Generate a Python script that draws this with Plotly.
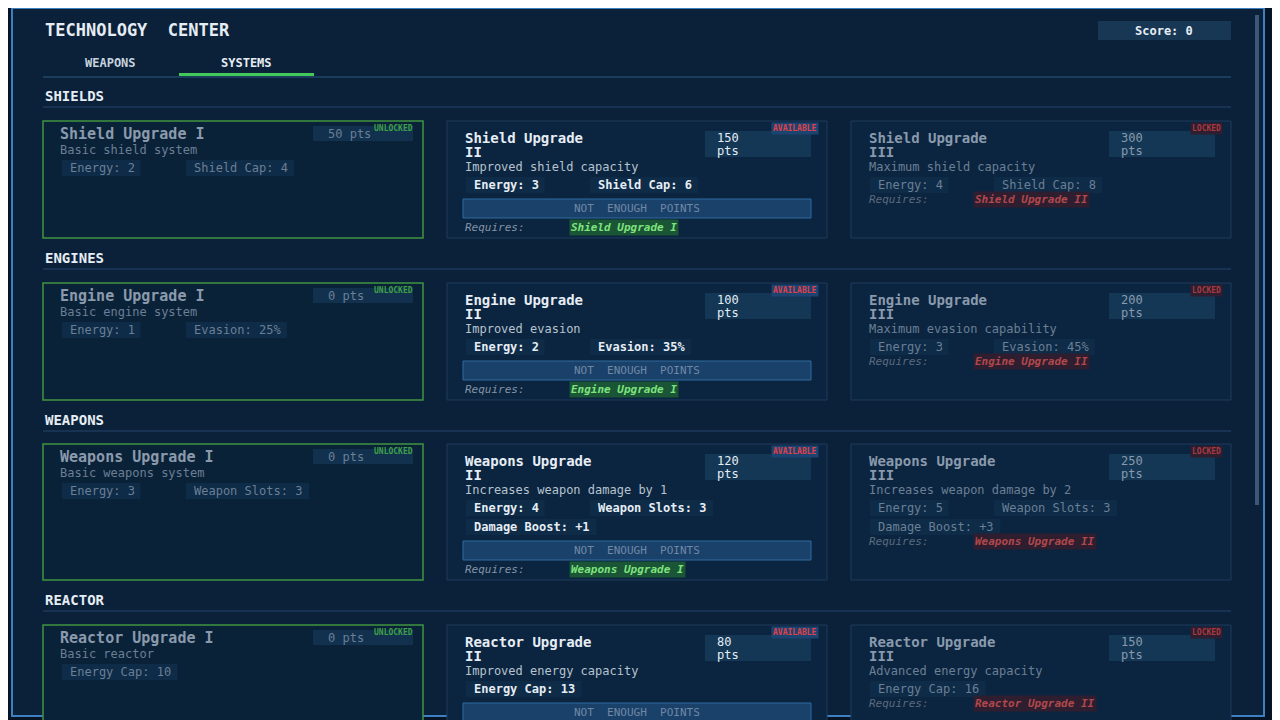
import plotly.graph_objects as go

sections = ["SHIELDS", "ENGINES", "WEAPONS", "REACTOR"]
names = [["Shield Upgrade I", "Shield Upgrade II", "Shield Upgrade III"],
         ["Engine Upgrade I", "Engine Upgrade II", "Engine Upgrade III"],
         ["Weapons Upgrade I", "Weapons Upgrade II", "Weapons Upgrade III"],
         ["Reactor Upgrade I", "Reactor Upgrade II", "Reactor Upgrade III"]]
descs = [["Basic shield system", "Improved shield capacity", "Maximum shield capacity"],
         ["Basic engine system", "Improved evasion", "Maximum evasion capability"],
         ["Basic weapons system", "Increases weapon damage by 1", "Increases weapon damage by 2"],
         ["Basic reactor", "Improved energy capacity", "Advanced energy capacity"]]
points = [[50, 150, 300], [0, 100, 200], [0, 120, 250], [0, 80, 150]]
stats = [[["Energy: 2", "Shield Cap: 4"], ["Energy: 3", "Shield Cap: 6"], ["Energy: 4", "Shield Cap: 8"]],
         [["Energy: 1", "Evasion: 25%"], ["Energy: 2", "Evasion: 35%"], ["Energy: 3", "Evasion: 45%"]],
         [["Energy: 3", "Weapon Slots: 3"], ["Energy: 4", "Weapon Slots: 3", "Damage Boost: +1"],
          ["Energy: 5", "Weapon Slots: 3", "Damage Boost: +3"]],
         [["Energy Cap: 10"], ["Energy Cap: 13"], ["Energy Cap: 16"]]]
requires = [[None, "Shield Upgrade I", "Shield Upgrade II"],
            [None, "Engine Upgrade I", "Engine Upgrade II"],
            [None, "Weapons Upgrade I", "Weapons Upgrade II"],
            [None, "Reactor Upgrade I", "Reactor Upgrade II"]]
statuses = ["UNLOCKED", "AVAILABLE", "LOCKED"]
tabs = ["WEAPONS", "SYSTEMS"]
score = 0

# layout (pixels)
header_y = [96, 258, 420, 600]
card_top = [121, 283, 444, 625]
card_bot = [238, 400, 580, 735]
col_x = [(43, 423), (447, 827), (851, 1231)]
OFF = 8  # page offset of the plot inside the browser

MONO = "DejaVu Sans Mono"
WHITE = "#e6edf5"
DIM = "#6b7f95"
shapes, anns = [], []


def rect(x0, y0, x1, y1, fill, line=None, w=1):
    shapes.append(dict(type="rect", xref="x", yref="y", x0=x0, y0=y0, x1=x1, y1=y1,
                       fillcolor=fill, line=dict(color=line or fill, width=w if line else 0), layer="below"))


def text(x, y, s, size=12, color=WHITE, bold=False, anchor="left", italic=False, bg=None):
    anns.append(dict(x=x, y=y, xref="x", yref="y", text=s, showarrow=False, xanchor=anchor, yanchor="middle",
                     font=dict(family=MONO, size=size, color=color, weight="bold" if bold else "normal",
                               style="italic" if italic else "normal"),
                     bgcolor=bg, borderpad=1))


# panel
rect(-20, -20, 1300, 740, "#061426")
rect(12, 8, 1264, 716, "#0b2139", "#3d7fc0", 2)
rect(1255, 15, 1259, 505, "#3a5878")
text(43, 30, "TECHNOLOGY  CENTER", 17, WHITE, True)
rect(1098, 21, 1231, 40, "#173754")
text(1164, 30.5, "Score: %d" % score, 12, WHITE, True, "center")
text(110, 63, tabs[0], 12, "#c7d3df", True, "center")
text(246, 63, tabs[1], 12, WHITE, True, "center")
shapes.append(dict(type="line", x0=43, x1=1231, y0=77, y1=77, line=dict(color="#2d5a82", width=1)))
rect(179, 73, 314, 76, "#42c95a")

for si, sec in enumerate(sections):
    text(43, header_y[si], sec, 14, WHITE, True)
    shapes.append(dict(type="line", x0=43, x1=1231, y0=header_y[si] + 11, y1=header_y[si] + 11,
                       line=dict(color="#24476a", width=1)))
    t, b = card_top[si], card_bot[si]
    for c in range(3):
        L, R = col_x[c]
        st = statuses[c]
        border = "#3f9440" if st == "UNLOCKED" else "#1e3c5c"
        rect(L, t, R, b, "#0b2540" if c else "#0a2238", border, 1.5 if c == 0 else 1)
        main = WHITE if st == "AVAILABLE" else "#8a9aac"
        sub = "#b7c3cf" if st == "AVAILABLE" else DIM
        if st == "UNLOCKED":
            text(R - 8, t + 7, st, 8, "#3fa047", True, "right")
        elif st == "AVAILABLE":
            text(R - 8, t + 7, st, 8, "#e0404a", True, "right", bg="#1c4470")
        else:
            text(R - 8, t + 7, st, 8, "#a83a40", True, "right", bg="#2e1e30")
        nm = names[si][c]
        if c == 0:
            text(L + 15, t + 13, nm, 15, main, True)
            rect(R - 110, t + 5, R - 10, t + 20, "#11314f")
            text(R - 97, t + 13, "%d pts" % points[si][c], 12, DIM)
            text(L + 15, t + 29, descs[si][c], 12, DIM)
            sy = t + 47
        else:
            head, last = nm.rsplit(" ", 1)
            text(L + 16, t + 17, head, 14, main, True)
            text(L + 16, t + 31, last, 14, main, True)
            rect(R - 122, t + 10, R - 16, t + 36, "#133755")
            text(R - 112, t + 17, str(points[si][c]), 12, main)
            text(R - 112, t + 30, "pts", 12, main)
            text(L + 16, t + 46, descs[si][c], 12, sub)
            sy = t + 64
        slist = stats[si][c]
        for k, s in enumerate(slist):
            x = L + 25 if k != 1 else L + 149
            y = sy + (19 if k == 2 else 0)
            rect(x - 6, y - 8, x + len(s) * 7.4 + 6, y + 8, "#0e2b47")
            text(x, y, s, 12, main if c == 1 else DIM, c == 1)
        last_y = sy + (19 if len(slist) > 2 else 0)
        ry = None
        if c == 1:
            bt = last_y + 14
            rect(L + 16, bt, R - 16, bt + 19, "#1a416a", "#2f6a9e")
            text((L + R) / 2, bt + 9.5, "NOT  ENOUGH  POINTS", 11, "#7088a4", False, "center")
            ry = bt + 28
        elif c == 2:
            ry = last_y + 14
        if ry is not None and requires[si][c]:
            text(L + 16, ry, "Requires:", 11, "#8494a6" if c == 1 else "#5b6b7e", italic=True)
            if c == 1:
                text(L + 122, ry, requires[si][c], 11, "#7ee27e", True, italic=True, bg="#1a5535")
            else:
                text(L + 122, ry, requires[si][c], 11, "#b0484c", True, italic=True, bg="#2e1e30")

fig = go.Figure()
fig.update_layout(width=1280, height=720, margin=dict(l=0, r=0, t=0, b=0),
                  paper_bgcolor="#061426", plot_bgcolor="#061426",
                  xaxis=dict(range=[OFF, 1280 + OFF], visible=False, fixedrange=True),
                  yaxis=dict(range=[720 + OFF, OFF], visible=False, fixedrange=True),
                  shapes=shapes, annotations=anns, showlegend=False)
fig.write_html("out.html", config={"displayModeBar": False})
